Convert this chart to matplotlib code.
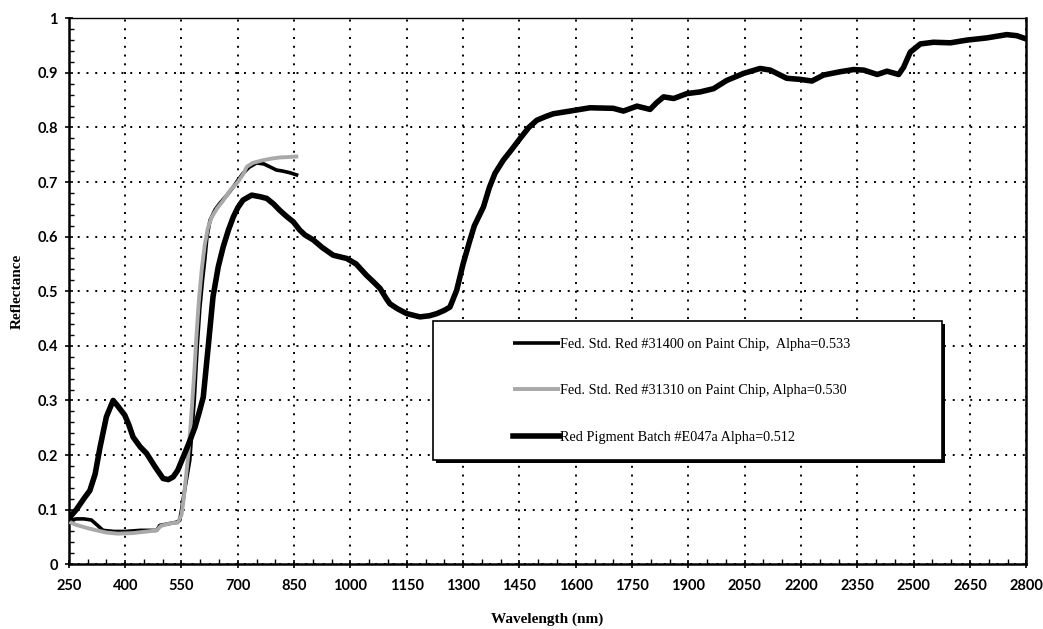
import numpy as np
import matplotlib.pyplot as plt
from matplotlib.patches import Rectangle
from matplotlib.ticker import MultipleLocator, FuncFormatter

# =========================================
# DATA
# =========================================
wl_31400 = [250, 270, 290, 310, 325, 341, 370, 400, 440, 484, 492, 515, 537, 545,
            550, 557, 563, 572, 584, 592, 599, 606, 612, 618, 626, 640, 652, 670,
            688, 700, 714, 730, 750, 770, 785, 803, 820, 839, 861]
ref_31400 = [0.080, 0.083, 0.083, 0.081, 0.072, 0.062, 0.060, 0.060, 0.062, 0.062,
             0.071, 0.074, 0.077, 0.080, 0.099, 0.130, 0.154, 0.190, 0.300, 0.400,
             0.470, 0.520, 0.557, 0.600, 0.630, 0.650, 0.661, 0.675, 0.691, 0.703,
             0.716, 0.727, 0.735, 0.733, 0.728, 0.722, 0.720, 0.717, 0.712]

wl_31310 = [250, 270, 300, 324, 350, 380, 420, 460, 484, 495, 520, 540, 550, 556,
            562, 568, 576, 584, 590, 596, 604, 612, 620, 630, 645, 660, 680, 700,
            714, 724, 740, 767, 790, 812, 840, 861]
ref_31310 = [0.078, 0.072, 0.066, 0.062, 0.058, 0.056, 0.057, 0.060, 0.062, 0.070,
             0.075, 0.076, 0.090, 0.120, 0.160, 0.200, 0.270, 0.350, 0.420, 0.480,
             0.540, 0.585, 0.615, 0.635, 0.652, 0.665, 0.685, 0.700, 0.714, 0.728,
             0.735, 0.740, 0.743, 0.745, 0.746, 0.747]

wl_e047a = [250, 270, 290, 306, 320, 333, 350, 368, 380, 399, 410, 421, 440, 457,
            480, 501, 515, 528, 540, 555, 570, 586, 598, 608, 620, 634, 648, 661,
            675, 688, 700, 714, 737, 760, 777, 795, 812, 830, 848, 865, 879, 901,
            925, 954, 990, 1015, 1043, 1060, 1079, 1095, 1105, 1125, 1150, 1185,
            1210, 1230, 1250, 1265, 1283, 1300, 1318, 1330, 1354, 1370, 1385, 1407,
            1430, 1452, 1475, 1496, 1520, 1540, 1585, 1638, 1700, 1727, 1763, 1798,
            1815, 1834, 1861, 1896, 1931, 1967, 2002, 2047, 2091, 2118, 2162, 2198,
            2229, 2260, 2304, 2340, 2367, 2403, 2429, 2460, 2473, 2491, 2518, 2553,
            2598, 2642, 2695, 2748, 2775, 2800]
ref_e047a = [0.084, 0.100, 0.120, 0.135, 0.165, 0.214, 0.270, 0.300, 0.290, 0.273,
             0.255, 0.233, 0.215, 0.203, 0.178, 0.157, 0.155, 0.160, 0.172, 0.197,
             0.222, 0.251, 0.280, 0.306, 0.390, 0.490, 0.545, 0.581, 0.612, 0.636,
             0.653, 0.667, 0.676, 0.673, 0.670, 0.660, 0.648, 0.637, 0.627, 0.612,
             0.603, 0.594, 0.580, 0.566, 0.560, 0.550, 0.529, 0.518, 0.505, 0.487,
             0.477, 0.468, 0.459, 0.453, 0.455, 0.459, 0.465, 0.471, 0.502, 0.550,
             0.593, 0.620, 0.654, 0.690, 0.716, 0.740, 0.760, 0.780, 0.800, 0.813,
             0.820, 0.825, 0.830, 0.836, 0.835, 0.830, 0.839, 0.833, 0.845, 0.856,
             0.853, 0.862, 0.865, 0.871, 0.886, 0.899, 0.908, 0.905, 0.890, 0.888,
             0.885, 0.896, 0.902, 0.906, 0.905, 0.897, 0.903, 0.897, 0.910, 0.938,
             0.953, 0.956, 0.955, 0.960, 0.964, 0.970, 0.968, 0.962]

labels = ["Fed. Std. Red #31400 on Paint Chip,  Alpha=0.533",
          "Fed. Std. Red #31310 on Paint Chip, Alpha=0.530",
          "Red Pigment Batch #E047a Alpha=0.512"]

x_ticks = np.arange(250, 2801, 150)

# =========================================
# PLOT
# =========================================
SERIF = "Liberation Serif"
SANS = "Lato"

fig = plt.figure(figsize=(10.43, 6.29), dpi=100)
ax = fig.add_axes([0.066, 0.103, 0.918, 0.868])

l1, = ax.plot(wl_31400, ref_31400, color="black", lw=2.6, zorder=3,
              solid_capstyle="butt")
l2, = ax.plot(wl_31310, ref_31310, color="#a9a9a9", lw=2.8, zorder=4,
              solid_capstyle="butt")
l3, = ax.plot(wl_e047a, ref_e047a, color="black", lw=4.0, zorder=5,
              solid_joinstyle="round")

ax.set_xlim(250, 2800)
ax.set_ylim(0, 1)
ax.set_xticks(x_ticks)
ax.xaxis.set_minor_locator(MultipleLocator(50))
ax.yaxis.set_major_locator(MultipleLocator(0.1))
ax.yaxis.set_minor_locator(MultipleLocator(0.02))
ax.yaxis.set_major_formatter(FuncFormatter(lambda v, p: f"{v:g}"))

ax.grid(True, which="major", color="black", lw=1.4, linestyle=(0, (1, 3.5)))
ax.tick_params(which="major", direction="inout", length=6, width=1.2,
               labelsize=10.5)
ax.tick_params(axis="x", which="major", pad=8)
ax.tick_params(axis="y", which="major", pad=5)
ax.tick_params(which="minor", direction="in", length=3.5, width=1.0)
for lab in ax.get_xticklabels() + ax.get_yticklabels():
    lab.set_fontfamily(SANS)
    lab.set_fontweight("bold")

for side in ["left", "bottom", "right"]:
    ax.spines[side].set_linewidth(1.8)
ax.spines["top"].set_linewidth(1.0)

ax.set_xlabel("Wavelength (nm)", fontfamily=SERIF, fontweight="bold",
              fontsize=11, labelpad=14)
ax.set_ylabel("Reflectance", fontfamily=SERIF, fontweight="bold",
              fontsize=11, labelpad=10)

# legend box with drop shadow
bx, by, bw, bh = 0.380, 0.190, 0.532, 0.255
ax.add_patch(Rectangle((bx + 0.003, by - 0.005), bw, bh, transform=ax.transAxes,
                       facecolor="black", edgecolor="none", zorder=6))
ax.add_patch(Rectangle((bx, by), bw, bh, transform=ax.transAxes,
                       facecolor="white", edgecolor="black", lw=1.2, zorder=7))

leg = ax.legend([l1, l2, l3], labels, loc="upper left",
                bbox_to_anchor=(0.4635, 0.415), frameon=False,
                prop={"family": SERIF, "size": 10.3},
                handlelength=3.3, handletextpad=0.0, labelspacing=2.36,
                borderaxespad=0, borderpad=0)
leg.set_zorder(8)

plt.savefig("out.png", dpi=100)
